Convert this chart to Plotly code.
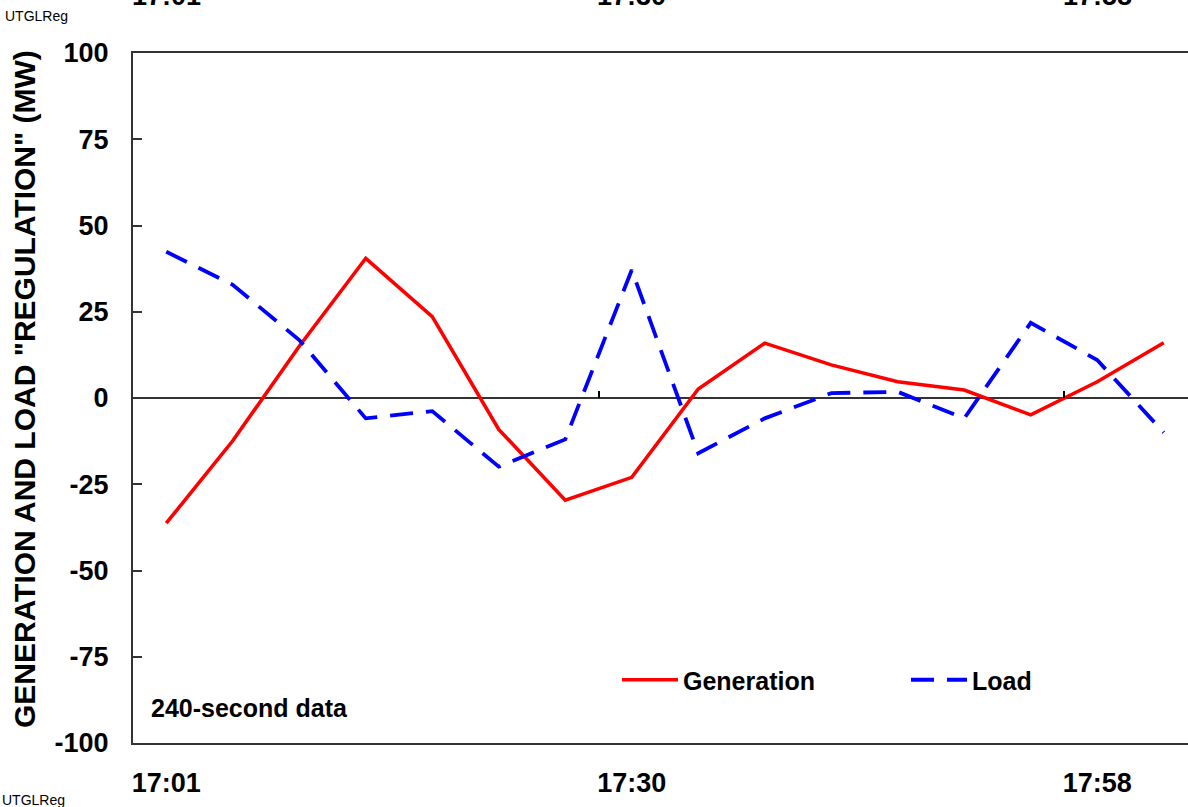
import plotly.graph_objects as go

# ---- data ----
n_points = 16
x_idx = list(range(n_points))
generation = [-36.3, -12.4, 15.0, 40.5, 23.6, -9.1, -29.6, -23.0, 2.6, 15.9, 9.6, 4.7, 2.3, -4.9, 4.7, 16.0]
load = [42.4, 32.8, 16.8, -5.9, -3.8, -19.9, -12.0, 37.1, -16.0, -5.9, 1.4, 1.8, -5.9, 21.8, 11.0, -10.0]
tick_pos = [0, 7, 14]
tick_labels = ["17:01", "17:30", "17:58"]
minor_tick_pos = [6.5, 13.5]
y_ticks = [-100, -75, -50, -25, 0, 25, 50, 75, 100]
y_tick_labels = [str(v) for v in y_ticks]

FONT = "Liberation Sans, Arial, sans-serif"
AX = "#333333"

fig = go.Figure()
fig.add_trace(go.Scatter(x=x_idx, y=generation, mode="lines", name="Generation",
                         line=dict(color="#ff0000", width=3.6)))
fig.add_trace(go.Scatter(x=x_idx, y=load, mode="lines", name="Load",
                         line=dict(color="#0000ff", width=3.8, dash="23px,13px")))
# invisible trace on overlay axis for the zero-line ticks
fig.add_trace(go.Scatter(x=minor_tick_pos, y=[0, 0], xaxis="x2", mode="lines",
                         line=dict(width=0), showlegend=False, hoverinfo="skip"))

xr = [-0.5, -0.5 + 1055 / 66.5]

fig.update_layout(
    width=1188, height=807,
    margin=dict(l=133, r=0, t=53, b=64, autoexpand=False),
    paper_bgcolor="white", plot_bgcolor="white",
    font=dict(family=FONT, color="black"),
    showlegend=True,
    legend=dict(orientation="h", x=(617 - 133) / 1055, y=(743 - 680) / 690,
                xanchor="left", yanchor="middle",
                font=dict(size=25, weight="bold", family=FONT),
                itemwidth=56, entrywidth=218, bgcolor="rgba(0,0,0,0)"),
    xaxis=dict(range=xr, showgrid=False, zeroline=False, showline=True, mirror=True,
               linecolor=AX, linewidth=2, tickmode="array", tickvals=tick_pos,
               ticktext=tick_labels, ticks="", ticklabelstandoff=15,
               tickfont=dict(size=27, weight="bold", family=FONT)),
    xaxis2=dict(range=xr, overlaying="x", anchor="free", position=0.5, side="bottom",
                showgrid=False, zeroline=False, showline=False, tickmode="array",
                tickvals=minor_tick_pos, ticks="inside", ticklen=7, tickwidth=1.5,
                tickcolor="black", showticklabels=False),
    yaxis=dict(range=[-100, 100], tickmode="array", tickvals=y_ticks,
               ticktext=y_tick_labels, showgrid=False,
               zeroline=True, zerolinecolor=AX, zerolinewidth=2,
               showline=True, linecolor=AX, linewidth=2, ticks="inside", ticklen=9,
               tickwidth=2, tickcolor=AX, ticklabelstandoff=17,
               tickfont=dict(size=27, weight="bold", family=FONT)),
    annotations=[
        dict(text='GENERATION AND LOAD "REGULATION" (MW)', textangle=-90,
             xref="paper", yref="paper", x=(24 - 133) / 1055, y=(743 - 389) / 690,
             xanchor="center", yanchor="middle", showarrow=False,
             font=dict(size=30, weight="bold", family=FONT)),
        dict(text="240-second data", xref="paper", yref="paper",
             x=(149 - 133) / 1055, y=(743 - 708) / 690, xanchor="left", yanchor="middle",
             showarrow=False, font=dict(size=25, weight="bold", family=FONT)),
        dict(text="UTGLReg", xref="paper", yref="paper", x=(3 - 133) / 1055,
             y=(743 - 16) / 690, xanchor="left", yanchor="middle", showarrow=False,
             font=dict(size=14, family=FONT)),
        dict(text="UTGLReg", xref="paper", yref="paper", x=(0 - 133) / 1055,
             y=(743 - 800) / 690, xanchor="left", yanchor="middle", showarrow=False,
             font=dict(size=14, family=FONT)),
    ] + [
        dict(text=t, xref="x", yref="paper", x=p, y=(743 - (-4)) / 690,
             xanchor="center", yanchor="middle", showarrow=False,
             font=dict(size=27, weight="bold", family=FONT))
        for p, t in zip(tick_pos, tick_labels)
    ],
)

fig.write_html("out.html")
